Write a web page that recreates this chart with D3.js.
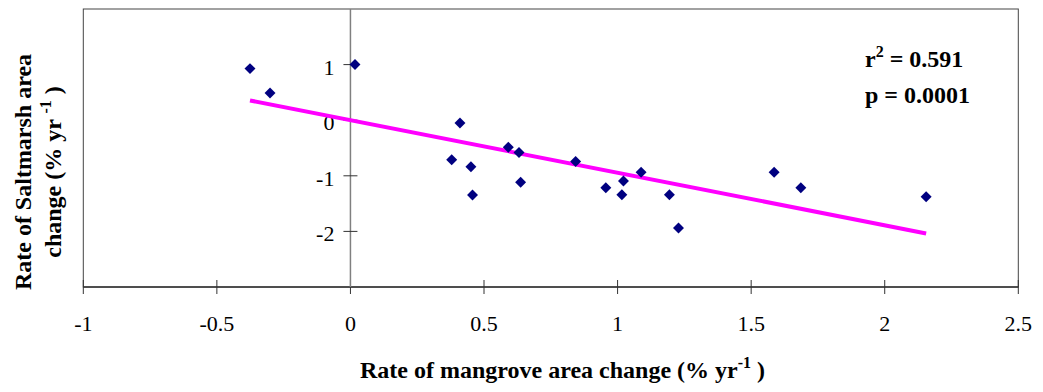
<!DOCTYPE html>
<html>
<head>
<meta charset="utf-8">
<script src="https://cdn.jsdelivr.net/npm/d3@7"></script>
<style>
  body { margin: 0; background: #fff; }
  svg { display: block; font-family: "Liberation Serif", "Times New Roman", serif; }
</style>
</head>
<body>
<div id="chart"></div>
<script>
// mangrove vs saltmarsh rate of change (% per yr)
const mangroveRate = [-0.376, -0.301, 0.017, 0.410, 0.379, 0.451, 0.457, 0.591, 0.631, 0.637,
                      0.843, 0.956, 1.022, 1.016, 1.088, 1.194, 1.228, 1.586, 1.686, 2.155];
const saltmarshRate = [0.928, 0.488, 1.0, -0.052, -0.711, -0.836, -1.347, -0.488, -0.582, -1.117,
                       -0.741, -1.216, -1.092, -1.341, -0.937, -1.341, -1.940, -0.937, -1.216, -1.377];

const xTicks = [-1, -0.5, 0, 0.5, 1, 1.5, 2, 2.5];
const yTicks = [-2, -1, 0, 1];

// fitted line
const trendSlope = -0.945;
const trendIntercept = 0.0;
const trendExtent = [-0.376, 2.155];

const width = 1043, height = 392;
const margin = {top: 9, right: 24.7, bottom: 105, left: 83.3};

const svg = d3.select("#chart").append("svg")
  .attr("width", width)
  .attr("height", height);

const x = d3.scaleLinear().domain([-1, 2.5]).range([margin.left, width - margin.right]);
const y = d3.scaleLinear().domain([-3, 2]).range([height - margin.bottom, margin.top]);

// plot frame
svg.append("rect")
  .attr("x", x(-1)).attr("y", y(2))
  .attr("width", x(2.5) - x(-1)).attr("height", y(-3) - y(2))
  .attr("fill", "none").attr("stroke", "#444").attr("stroke-width", 1);

// x axis along the bottom, ticks crossing the line
const xAxis = svg.append("g").attr("transform", "translate(0," + y(-3) + ")");
xAxis.append("line")
  .attr("x1", x(-1)).attr("x2", x(2.5))
  .attr("stroke", "#333").attr("stroke-width", 1.5);
xAxis.selectAll(".tick").data(xTicks).enter().append("line")
  .attr("x1", d => x(d)).attr("x2", d => x(d))
  .attr("y1", -7).attr("y2", 7)
  .attr("stroke", "#333").attr("stroke-width", 1);
xAxis.selectAll(".lbl").data(xTicks).enter().append("text")
  .attr("x", d => x(d)).attr("y", 44)
  .attr("text-anchor", "middle")
  .style("font-size", "22px")
  .text(d => d);

// y axis at x = 0
const yAxis = svg.append("g").attr("transform", "translate(" + x(0) + ",0)");
yAxis.append("line")
  .attr("y1", y(2)).attr("y2", y(-3))
  .attr("stroke", "#808080").attr("stroke-width", 1.5);
yAxis.selectAll(".tick").data(yTicks).enter().append("line")
  .attr("x1", -7).attr("x2", 7)
  .attr("y1", d => y(d)).attr("y2", d => y(d))
  .attr("stroke", "#333").attr("stroke-width", 1);
yAxis.selectAll(".lbl").data(yTicks).enter().append("text")
  .attr("x", -16).attr("y", d => y(d) + 10)
  .attr("text-anchor", "end")
  .style("font-size", "22px")
  .text(d => d);

// trend line
svg.append("line")
  .attr("x1", x(trendExtent[0])).attr("y1", y(trendSlope * trendExtent[0] + trendIntercept))
  .attr("x2", x(trendExtent[1])).attr("y2", y(trendSlope * trendExtent[1] + trendIntercept))
  .attr("stroke", "#ff00ff").attr("stroke-width", 4);

// points
const points = mangroveRate.map((d, i) => ({x: d, y: saltmarshRate[i]}));
svg.selectAll(".pt").data(points).enter().append("path")
  .attr("d", d3.symbol().type(d3.symbolSquare).size(60))
  .attr("transform", d => "translate(" + x(d.x) + "," + y(d.y) + ") rotate(45)")
  .attr("fill", "#000080");

// stats
const stats = svg.append("text")
  .attr("x", 865).attr("y", 67)
  .style("font-size", "24px").style("font-weight", "bold");
stats.append("tspan").text("r");
stats.append("tspan").attr("dy", -10).style("font-size", "16px").text("2");
stats.append("tspan").attr("dy", 10).text(" = 0.591");
svg.append("text")
  .attr("x", 865).attr("y", 103)
  .style("font-size", "24px").style("font-weight", "bold")
  .text("p = 0.0001");

// axis titles
const xt = svg.append("text")
  .attr("x", 360).attr("y", 378)
  .style("font-size", "24px").style("font-weight", "bold");
xt.append("tspan").text("Rate of mangrove area change (% yr");
xt.append("tspan").attr("dy", -10).style("font-size", "16px").text("-1");
xt.append("tspan").attr("dy", 10).text("  )");

const yt = svg.append("g").attr("transform", "translate(0,172) rotate(-90)");
yt.append("text")
  .attr("x", 0).attr("y", 31)
  .attr("text-anchor", "middle")
  .style("font-size", "24px").style("font-weight", "bold")
  .text("Rate of Saltmarsh area");
const yt2 = yt.append("text")
  .attr("x", 0).attr("y", 61)
  .attr("text-anchor", "middle")
  .style("font-size", "24px").style("font-weight", "bold");
yt2.append("tspan").text("change (% yr ");
yt2.append("tspan").attr("dy", -10).style("font-size", "16px").text("-1");
yt2.append("tspan").attr("dy", 10).text(" )");
</script>
</body>
</html>
